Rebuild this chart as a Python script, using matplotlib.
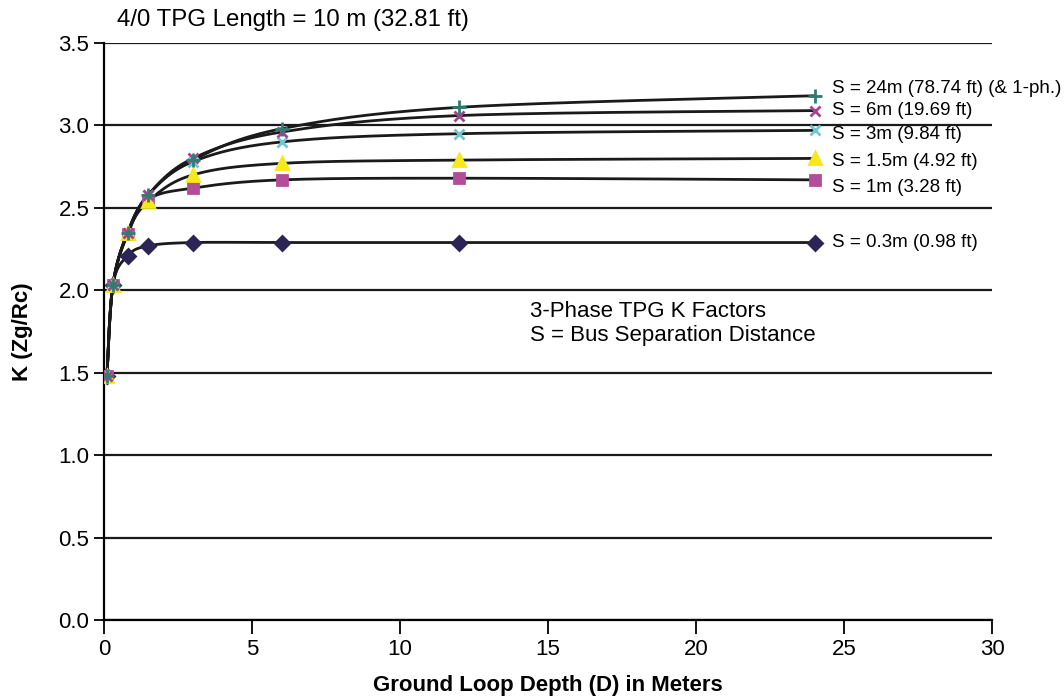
import matplotlib
matplotlib.use("Agg")
import matplotlib.pyplot as plt
import numpy as np

plt.rcParams['font.family'] = ['Liberation Sans', 'DejaVu Sans']

depth = [0.1, 0.3, 0.8, 1.5, 3, 6, 12, 24]

k_03 = [1.48, 2.03, 2.21, 2.27, 2.29, 2.29, 2.29, 2.29]
k_1 = [1.48, 2.03, 2.34, 2.55, 2.62, 2.67, 2.68, 2.67]
k_15 = [1.48, 2.03, 2.35, 2.54, 2.70, 2.77, 2.79, 2.80]
k_3 = [1.48, 2.03, 2.35, 2.58, 2.78, 2.90, 2.95, 2.97]
k_6 = [1.48, 2.03, 2.35, 2.58, 2.80, 2.96, 3.06, 3.09]
k_24 = [1.48, 2.03, 2.35, 2.58, 2.79, 2.98, 3.11, 3.18]

labels = ["S = 0.3m (0.98 ft)", "S = 1m (3.28 ft)", "S = 1.5m (4.92 ft)",
          "S = 3m (9.84 ft)", "S = 6m (19.69 ft)", "S = 24m (78.74 ft) (& 1-ph.)"]


def smooth(x, y, n=30):
    # Catmull-Rom style bezier, similar to Excel's smoothed line
    x = np.asarray(x, float)
    y = np.asarray(y, float)
    px, py = [], []
    for i in range(len(x) - 1):
        i0 = max(i - 1, 0)
        i3 = min(i + 2, len(x) - 1)
        c1x = x[i] + (x[i + 1] - x[i0]) / 6
        c1y = y[i] + (y[i + 1] - y[i0]) / 6
        c2x = x[i + 1] - (x[i3] - x[i]) / 6
        c2y = y[i + 1] - (y[i3] - y[i]) / 6
        t = np.linspace(0, 1, n)
        px.extend((1 - t) ** 3 * x[i] + 3 * (1 - t) ** 2 * t * c1x + 3 * (1 - t) * t ** 2 * c2x + t ** 3 * x[i + 1])
        py.extend((1 - t) ** 3 * y[i] + 3 * (1 - t) ** 2 * t * c1y + 3 * (1 - t) * t ** 2 * c2y + t ** 3 * y[i + 1])
    return px, py


fig = plt.figure(figsize=(10.64, 7), dpi=100)
ax = fig.add_axes([0.0977, 0.114, 0.8350, 0.8246])

series = [
    (k_03, 'D', '#2b2456', 7),
    (k_1, 's', '#b44d99', 7),
    (k_15, '^', '#f6e81a', 8),
    (k_3, 'x', '#6fc6d2', 7),
    (k_6, 'x', '#a3458e', 7),
    (k_24, '+', '#2f7c72', 10),
]
# vertical nudges so the end labels don't collide
label_dy = [0.0, -0.045, -0.02, -0.025, 0.0, 0.045]

for (vals, mk, col, ms), lab in zip(series, labels):
    sx, sy = smooth(depth, vals)
    ax.plot(sx, sy, color='#1a1a1a', lw=2, zorder=3)
for (vals, mk, col, ms), lab, dy in zip(series, labels, label_dy):
    ax.plot(depth, vals, ls='none', marker=mk, color=col, ms=ms, mew=2, zorder=4)
    ax.text(24.6, vals[-1] + dy, lab, fontsize=13.5, va='center', ha='left', clip_on=False)

ax.text(14.4, 1.80, "3-Phase TPG K Factors\nS = Bus Separation Distance",
        fontsize=16, va='center', ha='left', linespacing=1.2)
ax.text(0.45, 3.57, "4/0 TPG Length = 10 m (32.81 ft)", fontsize=17.3, va='bottom', ha='left')

ax.set_xlim(0, 30)
ax.set_ylim(0, 3.5)
ax.set_xticks(range(0, 31, 5))
ax.set_yticks(np.arange(0, 3.51, 0.5))
ax.set_yticklabels([f"{v:.1f}" for v in np.arange(0, 3.51, 0.5)])
ax.yaxis.grid(True, color='#1a1a1a', lw=1.6)
ax.set_axisbelow(True)
for s in ['top', 'right']:
    ax.spines[s].set_visible(False)
ax.spines['left'].set_linewidth(1.6)
ax.spines['bottom'].set_linewidth(1.6)
ax.tick_params(axis='both', labelsize=16, width=1.3, length=7, direction='out')
ax.tick_params(axis='x', length=10)

ax.set_xlabel("Ground Loop Depth (D) in Meters", fontsize=16, fontweight='bold', labelpad=11)
ax.set_ylabel("K (Zg/Rc)", fontsize=16, fontweight='bold', labelpad=18)

fig.savefig("out.png", dpi=100)
